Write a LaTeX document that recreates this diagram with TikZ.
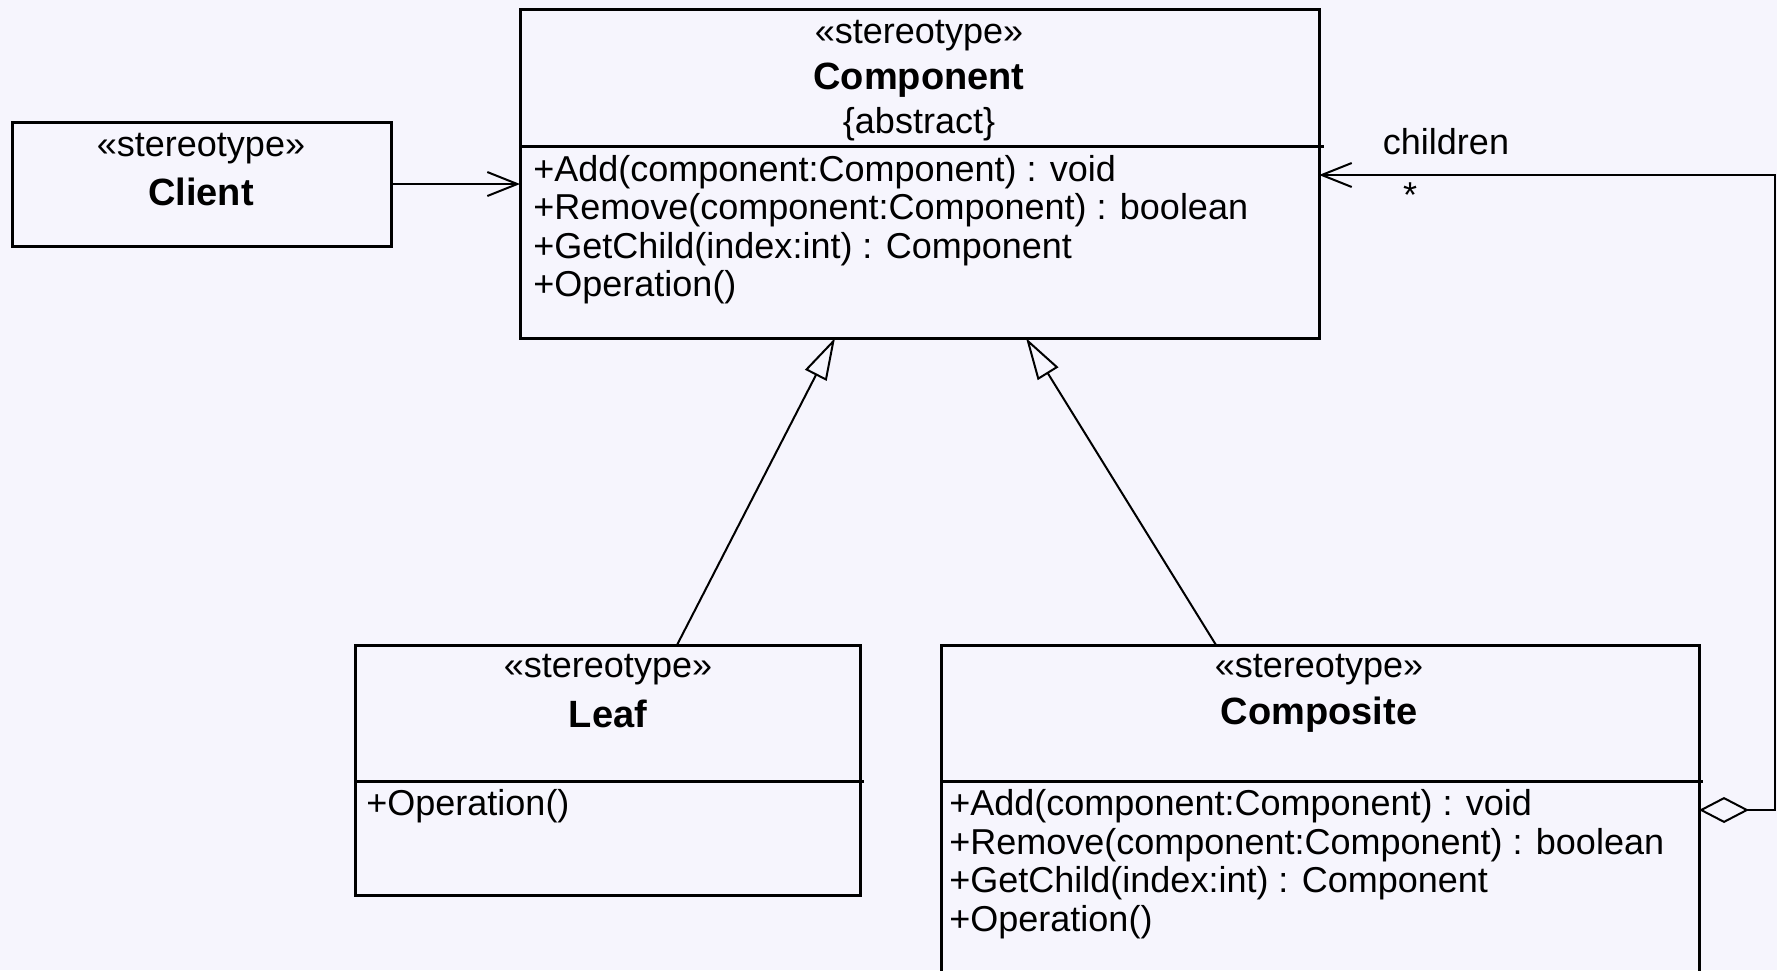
\documentclass[tikz,border=0pt]{standalone}
\usepackage{fontspec}
\setmainfont{Liberation Sans}
\usetikzlibrary{arrows.meta}
\definecolor{bg}{RGB}{246,245,253}
\begin{document}
\begin{tikzpicture}[x=0.5pt,y=-0.5pt,
  box/.style={draw, line width=1.5pt, anchor=north west, inner sep=0pt, outer sep=0pt},
  txt/.style={inner sep=0pt, font=\fontsize{18}{20}\selectfont},
  cname/.style={inner sep=0pt, font=\fontsize{19}{21}\selectfont\bfseries},
  meth/.style={txt, anchor=west},
  divider/.style={line width=1.5pt},
  conn/.style={line width=1pt},
  nav/.style={-{Straight Barb[length=15pt,width=12pt]}},
  gen/.style={-{Triangle[open,length=21pt,width=12pt]}},
  agg/.style={{Diamond[open,length=25pt,width=13pt]}-{Straight Barb[length=15pt,width=12pt]}}
]
\clip (0,0) rectangle (1777,970);
\fill[bg] (0,0) rectangle (1777,970);

% boxes
\node[box, minimum width=189.5pt, minimum height=62pt] (client) at (12,122) {};
\node[box, minimum width=399.5pt, minimum height=164.5pt] (comp) at (520,9) {};
\node[box, minimum width=252.5pt, minimum height=125pt] (leaf) at (355,645) {};
\node[box, minimum width=379pt, minimum height=200pt] (composite) at (941,645) {};

% dividers
\draw[divider] (520,146) -- (1324,146);
\draw[divider] (355,781) -- (864,781);
\draw[divider] (941,781) -- (1703,781);

% Client text
\node[txt] (clst) at (201,149) {«stereotype»};
\node[cname] (clnm) at (201,192) {Client};

% Component text
\node[txt] (cost) at (919,36) {«stereotype»};
\node[cname] (conm) at (919,80) {Component};
\node[txt] (coab) at (919,124) {\{abstract\}};
\node[meth] (com1) at (533,172) {+Add(component:Component) : void};
\node[meth] (com2) at (533,210) {+Remove(component:Component) : boolean};
\node[meth] (com3) at (533,249) {+GetChild(index:int) : Component};
\node[meth] (com4) at (533,287) {+Operation()};

% Leaf text
\node[txt] (lfst) at (608,670) {«stereotype»};
\node[cname] (lfnm) at (608,714) {Leaf};
\node[meth] (lfm1) at (366,806) {+Operation()};

% Composite text
\node[txt] (cpst) at (1319,670) {«stereotype»};
\node[cname] (cpnm) at (1319,715) {Composite};
\node[meth] (cpm1) at (949,806) {+Add(component:Component) : void};
\node[meth] (cpm2) at (949,845) {+Remove(component:Component) : boolean};
\node[meth] (cpm3) at (949,883) {+GetChild(index:int) : Component};
\node[meth] (cpm4) at (949,922) {+Operation()};

% connectors
\draw[conn, nav] (client.east) -- (client.east -| comp.west);
\draw[conn, gen] ([xshift=34.75pt]leaf.north) -- ([xshift=-42.25pt]comp.south);
\draw[conn, gen] ([xshift=-52pt]composite.north) -- ([xshift=53.25pt]comp.south);

\coordinate (aggend) at ([yshift=-83pt]comp.north east);
\coordinate (aggstart) at ([yshift=-82.5pt]composite.north east);
\draw[conn, agg] (aggstart) -- ++(76,0) |- (aggend);

\node[txt] (lblch) at (1446,142) {children};
\node[txt, anchor=north] (lblmult) at (1410,182) {*};
\end{tikzpicture}
\end{document}
